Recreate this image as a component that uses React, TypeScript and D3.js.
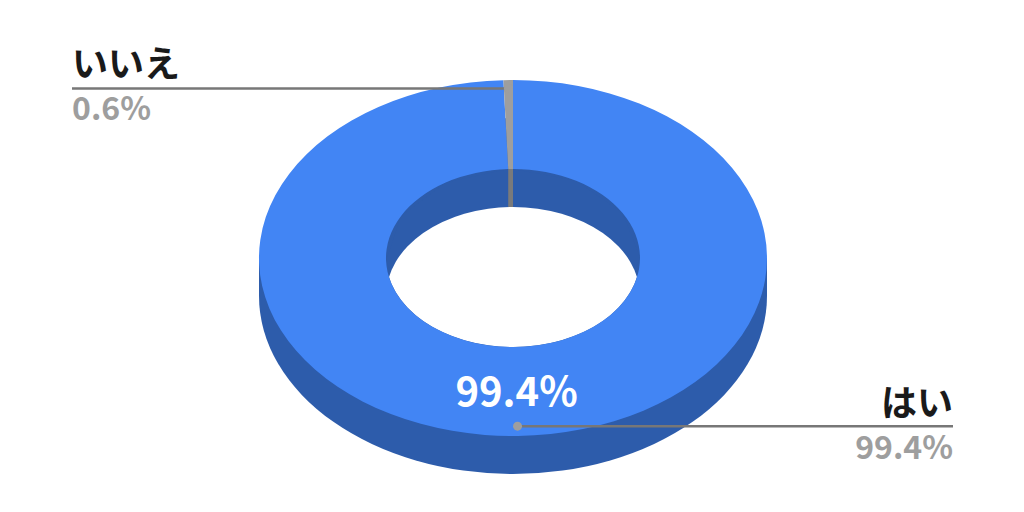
import * as d3 from "d3";

const categories = ["はい", "いいえ"];
const shares = [99.4, 0.6];
const shareLabels = ["99.4%", "0.6%"];
const sliceColors = ["#4285f4", "#9e9e9e"];
const wallColors = ["#2d5cab", "#7a7a7a"];

const width = 1024;
const height = 512;
const cx = 513;
const cy = 258;
const rx = 254;
const ry = 178;
const depth = 38;
const holeRatio = 0.5;
const squash = ry / rx;
const labelFont = "'Noto Sans CJK JP', 'Noto Sans', sans-serif";

const pie = d3.pie<number>().sort(null)(shares);
const arc = d3.arc<d3.PieArcDatum<number>>().innerRadius(rx * holeRatio).outerRadius(rx);

// ring fraction -> point on the squashed top face
const pointAt = (angle: number, fraction: number): [number, number] => [
  cx + Math.sin(angle) * rx * fraction,
  cy - Math.cos(angle) * ry * fraction,
];

const midAngle = (d: d3.PieArcDatum<number>) => (d.startAngle + d.endAngle) / 2;

// inner wall strip for one slice
const wallPath = (d: d3.PieArcDatum<number>) => {
  const angles = d3.range(0, 13).map((i) => d.startAngle + ((d.endAngle - d.startAngle) * i) / 12);
  const upper = angles.map((a) => pointAt(a, holeRatio));
  const lower = upper.map(([x, y]): [number, number] => [x, y + depth]).reverse();
  return d3.line()([...upper, ...lower]) + "Z";
};

const leaders = [
  { index: 0, fraction: 0.945, textX: 953, anchor: "end", nameY: 416, valueY: 459 },
  { index: 1, fraction: 0.953, textX: 72, anchor: "start", nameY: 77, valueY: 120 },
];

export default function App() {
  return (
    <svg
      width={width}
      height={height}
      viewBox={`0 0 ${width} ${height}`}
      style={{ position: "fixed", left: 0, top: 0, background: "#fff" }}
    >
      <defs>
        <clipPath id="hole-clip">
          <ellipse cx={cx} cy={cy} rx={rx * holeRatio} ry={ry * holeRatio} />
        </clipPath>
      </defs>

      {/* extruded body */}
      <ellipse cx={cx} cy={cy + depth} rx={rx} ry={ry} fill={wallColors[0]} />
      <rect x={cx - rx} y={cy} width={rx * 2} height={depth} fill={wallColors[0]} />

      {/* inner wall, then the see-through part of the hole */}
      <g clipPath="url(#hole-clip)">
        {pie.map((d, i) => (
          <path key={i} d={wallPath(d)} fill={wallColors[i]} />
        ))}
        <ellipse cx={cx} cy={cy + depth} rx={rx * holeRatio} ry={ry * holeRatio} fill="#fff" />
      </g>

      {/* top face */}
      <g transform={`translate(${cx},${cy}) scale(1,${squash})`}>
        {pie.map((d, i) => (
          <path key={i} d={arc(d) ?? ""} fill={sliceColors[i]} />
        ))}
      </g>

      <text
        x={pointAt(midAngle(pie[0]), 0.75)[0]}
        y={pointAt(midAngle(pie[0]), 0.75)[1] + 15}
        textAnchor="middle"
        fontFamily={labelFont}
        fontWeight={700}
        fontSize={40}
        fill="#fff"
      >
        {shareLabels[0]}
      </text>

      {leaders.map((l) => {
        const [x, y] = pointAt(midAngle(pie[l.index]), l.fraction);
        return (
          <g key={l.index}>
            <line x1={x} x2={l.textX} y1={y} y2={y} stroke="#777" strokeWidth={2.5} />
            <circle cx={x} cy={y} r={4.5} fill="#9e9e9e" />
            <text
              x={l.textX}
              y={l.nameY}
              textAnchor={l.anchor}
              fontFamily={labelFont}
              fontWeight={700}
              fontSize={36}
              fill="#1a1a1a"
            >
              {categories[l.index]}
            </text>
            <text
              x={l.textX}
              y={l.valueY}
              textAnchor={l.anchor}
              fontFamily={labelFont}
              fontWeight={700}
              fontSize={32}
              fill="#9e9e9e"
            >
              {shareLabels[l.index]}
            </text>
          </g>
        );
      })}
    </svg>
  );
}
